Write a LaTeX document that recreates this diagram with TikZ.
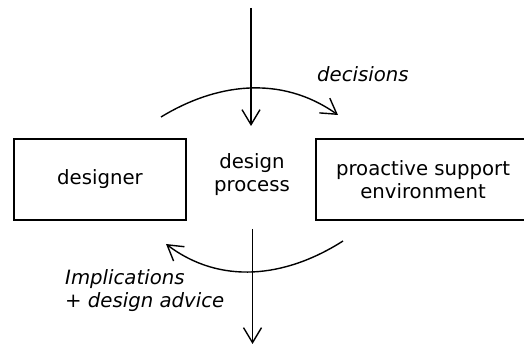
\documentclass[tikz,border=0pt]{standalone}
\usepackage{fontspec}
\setmainfont{DejaVu Sans}
\usetikzlibrary{arrows.meta}
\tikzset{
  boxnode/.style={draw, line width=1.4pt, minimum height=81pt, inner sep=0pt, align=center,
    font=\fontsize{19.7pt}{23pt}\selectfont},
  plaintext/.style={inner sep=0pt, align=center, font=\fontsize{19.7pt}{23pt}\selectfont},
  labeltext/.style={inner sep=0pt, align=left, font=\fontsize{19.7pt}{23pt}\selectfont\itshape},
  flow/.style={line width=1.4pt, -{Straight Barb[length=15pt,width=18pt,line width=1.4pt]}},
}
\begin{document}
\begin{tikzpicture}[x=1pt,y=-1pt]
\useasboundingbox (0,0) rectangle (524,344);
\clip (0,0) rectangle (524,344);
\node[boxnode, minimum width=172pt] (designer) at (100,179.5) {designer};
\node[boxnode, minimum width=214pt] (pse) at (423,179.5) {proactive support\\environment};
\node[plaintext] (process) at (252,175) {design\\process};
\node[labeltext, anchor=base west] (decisions) at (317,82) {decisions};
\node[labeltext, anchor=west] (implications) at (65,290.5) {Implications\\+ design advice};
\coordinate (intop) at (251,8);
\coordinate (inbot) at (251,126);
\coordinate (outtop) at (252.5,229);
\coordinate (outbot) at (252.5,344);
\coordinate (d1) at (161,117);
\coordinate (d2) at (338,115);
\coordinate (i1) at (343,241);
\coordinate (i2) at (166,244);
\draw[flow] (intop) -- (inbot);
\draw[flow] (outtop) -- (outbot);
\draw[flow] (d1) .. controls (215,84) and (280,74) .. (d2);
\draw[flow] (i1) .. controls (285,278) and (220,285) .. (i2);
\end{tikzpicture}
\end{document}
